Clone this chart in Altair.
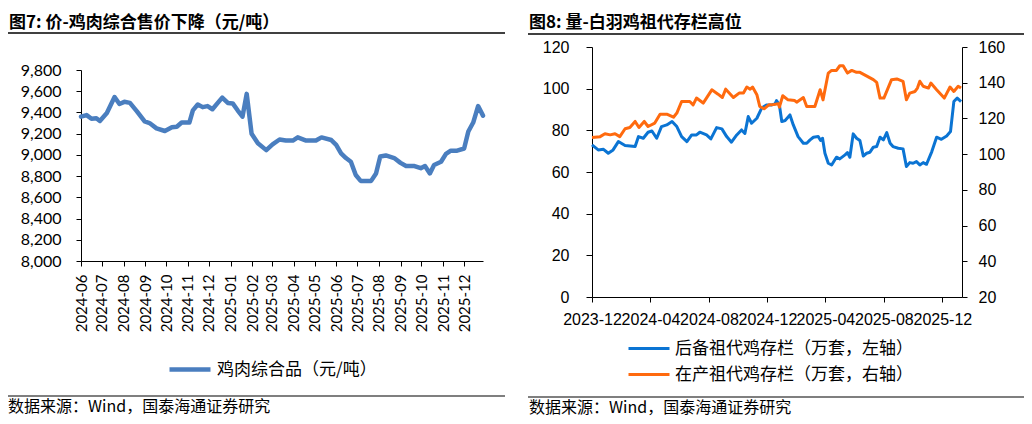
import altair as alt
import pandas as pd

# ---------------- data ----------------
# Figure 7: chicken composite price (yuan/ton)
price_dates = [
    "2024-06-01", "2024-06-09", "2024-06-16", "2024-06-23", "2024-06-28", "2024-07-08",
    "2024-07-19", "2024-07-26", "2024-08-02", "2024-08-10", "2024-08-20", "2024-08-31",
    "2024-09-07", "2024-09-17", "2024-09-29", "2024-10-09", "2024-10-16", "2024-10-23",
    "2024-11-03", "2024-11-08", "2024-11-15", "2024-11-22", "2024-11-29", "2024-12-06",
    "2024-12-13", "2024-12-20", "2024-12-28", "2025-01-04", "2025-01-11", "2025-01-18",
    "2025-01-24", "2025-01-31", "2025-02-09", "2025-02-21", "2025-03-02", "2025-03-12",
    "2025-03-21", "2025-03-31", "2025-04-07", "2025-04-19", "2025-05-03", "2025-05-11",
    "2025-05-25", "2025-06-01", "2025-06-08", "2025-06-15", "2025-06-22", "2025-06-29",
    "2025-07-06", "2025-07-21", "2025-07-28", "2025-08-03", "2025-08-11", "2025-08-23",
    "2025-09-01", "2025-09-09", "2025-09-21", "2025-09-30", "2025-10-06", "2025-10-13",
    "2025-10-19", "2025-10-29", "2025-11-05", "2025-11-12", "2025-11-21", "2025-12-01",
    "2025-12-07", "2025-12-14", "2025-12-21", "2025-12-28",
]
price_values = [
    9360, 9375, 9340, 9345, 9320, 9395,
    9545, 9480, 9500, 9490, 9410, 9315,
    9300, 9250, 9225, 9260, 9265, 9305,
    9305, 9420, 9475, 9450, 9460, 9430,
    9485, 9540, 9490, 9485, 9420, 9360,
    9575, 9200, 9110, 9045, 9100, 9145,
    9135, 9135, 9165, 9135, 9135, 9165,
    9140, 9095, 9015, 8970, 8935, 8810,
    8755, 8755, 8825, 8985, 8995, 8970,
    8925, 8895, 8895, 8875, 8895, 8825,
    8905, 8935, 9010, 9040, 9040, 9060,
    9220, 9305, 9460, 9370,
]

# Figure 8: reserve grandparent stock (10k sets, left axis)
reserve_dates = [
    "2023-12-01", "2023-12-14", "2023-12-25", "2024-01-04", "2024-01-14", "2024-01-25",
    "2024-02-08", "2024-02-29", "2024-03-07", "2024-03-17", "2024-03-27", "2024-04-04",
    "2024-04-14", "2024-04-24", "2024-05-05", "2024-05-16", "2024-05-26", "2024-06-05",
    "2024-06-16", "2024-06-26", "2024-07-06", "2024-07-13", "2024-07-27", "2024-08-05",
    "2024-08-17", "2024-08-28", "2024-09-07", "2024-09-17", "2024-09-28", "2024-10-08",
    "2024-10-15", "2024-10-22", "2024-10-29", "2024-11-09", "2024-11-19", "2024-11-29",
    "2024-12-10", "2024-12-17", "2024-12-20", "2024-12-26", "2024-12-31", "2025-01-07",
    "2025-01-17", "2025-01-24", "2025-02-03", "2025-02-14", "2025-02-21", "2025-02-28",
    "2025-03-07", "2025-03-17", "2025-03-22", "2025-03-26", "2025-03-31", "2025-04-07",
    "2025-04-14", "2025-04-24", "2025-05-01", "2025-05-12", "2025-05-17", "2025-05-22",
    "2025-05-29", "2025-06-05", "2025-06-12", "2025-06-19", "2025-06-26", "2025-07-03",
    "2025-07-10", "2025-07-17", "2025-07-24", "2025-07-31", "2025-08-07", "2025-08-14",
    "2025-08-20", "2025-08-31", "2025-09-10", "2025-09-17", "2025-09-24", "2025-10-01",
    "2025-10-08", "2025-10-15", "2025-10-22", "2025-10-29", "2025-11-09", "2025-11-19",
    "2025-11-29", "2025-12-10", "2025-12-18", "2025-12-25", "2026-01-01", "2026-01-09",
]
reserve_values = [
    73.0, 70.6, 70.9, 69.0, 70.6, 74.6,
    72.7, 72.2, 77.0, 76.2, 79.1, 79.7,
    76.2, 81.8, 82.6, 84.2, 81.8, 77.0,
    74.6, 77.8, 77.8, 79.1, 77.8, 75.9,
    81.3, 80.7, 77.0, 74.3, 77.8, 80.2,
    78.5, 86.6, 83.4, 85.8, 90.7, 92.2,
    92.2, 92.7, 94.3, 92.2, 84.2, 84.7,
    87.4, 82.6, 77.0, 73.8, 73.8, 75.4,
    76.7, 77.0, 75.1, 76.2, 69.0, 64.2,
    63.4, 67.1, 66.3, 68.2, 69.3, 67.1,
    78.3, 76.2, 75.1, 67.7, 69.0, 69.5,
    71.9, 72.2, 76.7, 75.4, 78.9, 73.8,
    72.2, 71.4, 71.1, 62.6, 64.5, 64.2,
    65.0, 63.4, 64.5, 63.7, 69.8, 76.7,
    75.7, 77.3, 79.4, 93.8, 95.5, 93.8,
]

# Figure 8: productive grandparent stock (10k sets, right axis)
prod_dates = [
    "2023-12-01", "2023-12-18", "2023-12-28", "2024-01-08", "2024-01-18", "2024-01-28",
    "2024-02-08", "2024-02-18", "2024-02-29", "2024-03-08", "2024-03-19", "2024-03-27",
    "2024-04-10", "2024-04-21", "2024-05-05", "2024-05-19", "2024-05-26", "2024-06-05",
    "2024-06-22", "2024-06-29", "2024-07-06", "2024-07-20", "2024-08-07", "2024-08-20",
    "2024-08-29", "2024-09-05", "2024-09-21", "2024-10-03", "2024-10-12", "2024-10-19",
    "2024-10-26", "2024-10-31", "2024-11-09", "2024-11-15", "2024-11-24", "2024-12-04",
    "2024-12-10", "2024-12-24", "2024-12-26", "2025-01-02", "2025-01-13", "2025-01-27",
    "2025-01-31", "2025-02-14", "2025-02-21", "2025-03-10", "2025-03-21", "2025-03-27",
    "2025-04-07", "2025-04-14", "2025-04-24", "2025-05-01", "2025-05-08", "2025-05-17",
    "2025-05-26", "2025-06-05", "2025-06-12", "2025-07-10", "2025-07-17", "2025-07-24",
    "2025-08-01", "2025-08-17", "2025-08-28", "2025-09-10", "2025-09-17", "2025-09-24",
    "2025-10-05", "2025-10-10", "2025-10-15", "2025-10-22", "2025-11-02", "2025-11-07",
    "2025-11-19", "2025-12-05", "2025-12-17", "2025-12-25", "2026-01-03", "2026-01-09",
]
prod_values = [
    109.3, 109.8, 111.4, 110.8, 111.4, 109.8,
    114.2, 114.9, 118.3, 114.9, 118.3, 115.5,
    117.4, 122.4, 122.4, 120.7, 123.0, 129.5,
    129.5, 127.6, 131.4, 128.6, 136.0, 133.6,
    131.7, 136.4, 131.7, 134.2, 134.2, 137.6,
    136.4, 137.6, 133.3, 126.7, 125.4, 127.6,
    127.6, 128.2, 126.3, 132.7, 130.4, 130.0,
    129.1, 131.7, 126.7, 126.7, 136.1, 130.4,
    145.4, 146.9, 146.9, 149.5, 149.5, 145.4,
    146.9, 145.8, 145.8, 141.7, 140.2, 131.4,
    131.4, 141.7, 142.1, 140.8, 130.4, 134.2,
    135.1, 137.0, 140.8, 138.0, 137.0, 139.8,
    136.1, 131.4, 137.6, 135.1, 138.0, 137.0,
]

price_ticks = [8000, 8200, 8400, 8600, 8800, 9000, 9200, 9400, 9600, 9800]
left_month_ticks = [(2024, m) for m in range(6, 13)] + [(2025, m) for m in range(1, 13)]
right_month_ticks = [(2023, 12), (2024, 4), (2024, 8), (2024, 12), (2025, 4), (2025, 8), (2025, 12)]
left_axis_ticks = [0, 20, 40, 60, 80, 100, 120]
right_axis_ticks = [20, 40, 60, 80, 100, 120, 140, 160]

TITLE_L = "图7:  价-鸡肉综合售价下降（元/吨）"
TITLE_R = "图8:  量-白羽鸡祖代存栏高位"
SOURCE = "数据来源：Wind，国泰海通证券研究"
SER_PRICE = "鸡肉综合品（元/吨）"
SER_RES = "后备祖代鸡存栏（万套，左轴）"
SER_PROD = "在产祖代鸡存栏（万套，右轴）"

C_PRICE = "#4A7EBF"
C_RES = "#0B74D3"
C_PROD = "#FF6A0E"

CJK = "Noto Sans CJK SC"
W, H = 1016, 408


def dt(y, m, d=1):
    return alt.DateTime(year=y, month=m, date=d)


price_df = pd.DataFrame({"d1": pd.to_datetime(price_dates), "price": price_values, "s1": SER_PRICE})
res_df = pd.DataFrame({"d2": pd.to_datetime(reserve_dates), "res": reserve_values, "s2": SER_RES})
prod_df = pd.DataFrame({"d3": pd.to_datetime(prod_dates), "prod": prod_values, "s3": SER_PROD})

axis_common = dict(grid=False, title=None, domainColor="black", tickColor="black",
                   labelColor="black", labelOverlap=False, labelFlush=False,
                   domainWidth=1, tickWidth=1)


def legend_at(x, y, stroke_w):
    return alt.Legend(orient="none", legendX=x, legendY=y, title=None,
                      symbolType="stroke", symbolSize=1681, symbolStrokeWidth=stroke_w,
                      labelFont=CJK, labelFontSize=17, labelColor="black",
                      labelOffset=4, labelLimit=600, padding=0)


# ---------------- left panel ----------------
left_line = alt.Chart(price_df).mark_line(strokeWidth=4.5, strokeJoin="round", strokeCap="round").encode(
    x=alt.X("d1:T",
            scale=alt.Scale(domain=[dt(2024, 6, 1), dt(2025, 12, 28)], range=[73, 475]),
            axis=alt.Axis(values=[dt(y, m) for y, m in left_month_ticks], format="%Y-%m",
                          labelAngle=270, orient="bottom", offset=-155, tickSize=5,
                          labelPadding=8, labelFont="Lato", labelFontSize=15, **axis_common)),
    y=alt.Y("price:Q",
            scale=alt.Scale(domain=[8000, 9800], range=[253, 62], nice=False, zero=False),
            axis=alt.Axis(values=price_ticks, format=",d", orient="left", offset=-73, tickSize=5,
                          labelPadding=15, labelFont="Lato", labelFontSize=16, **axis_common)),
    color=alt.Color("s1:N", scale=alt.Scale(range=[C_PRICE]), legend=legend_at(159, 338.5, 4.5)),
)

# ---------------- right panel ----------------
res_line = alt.Chart(res_df).mark_line(strokeWidth=3, strokeJoin="round").encode(
    x=alt.X("d2:T",
            scale=alt.Scale(domain=[dt(2023, 12, 1), dt(2026, 1, 11)], range=[584, 954]),
            axis=alt.Axis(values=[dt(y, m) for y, m in right_month_ticks], format="%Y-%m",
                          labelAngle=0, orient="bottom", offset=-119, tickSize=5, labelPadding=9,
                          labelFont="Liberation Sans", labelFontSize=16, **axis_common)),
    y=alt.Y("res:Q", scale=alt.Scale(domain=[0, 120], range=[289, 39], nice=False),
            axis=alt.Axis(values=left_axis_ticks, orient="left", offset=-584, tickSize=6,
                          labelPadding=17, labelFont="Liberation Sans", labelFontSize=16,
                          **axis_common)),
    color=alt.Color("s2:N", scale=alt.Scale(range=[C_RES]), legend=legend_at(619, 318.5, 3)),
)

prod_line = alt.Chart(prod_df).mark_line(strokeWidth=3, strokeJoin="round").encode(
    x=alt.X("d3:T",
            scale=alt.Scale(domain=[dt(2023, 12, 1), dt(2026, 1, 11)], range=[584, 954]),
            axis=None),
    y=alt.Y("prod:Q", scale=alt.Scale(domain=[20, 160], range=[289, 39], nice=False, zero=False),
            axis=alt.Axis(values=right_axis_ticks, orient="right", offset=-62, tickSize=5,
                          labelPadding=11, labelFont="Liberation Sans", labelFontSize=16,
                          **axis_common)),
    color=alt.Color("s3:N", scale=alt.Scale(range=[C_PROD]), legend=legend_at(619, 344.5, 3)),
)


# ---------------- titles, rules, sources ----------------
def text_layer(txt, x, y, size, weight="normal", baseline="middle"):
    return alt.Chart(pd.DataFrame({"t": [txt]})).mark_text(
        align="left", baseline=baseline, font=CJK, fontSize=size, fontWeight=weight, color="black"
    ).encode(text="t:N", x=alt.value(x), y=alt.value(y))


def rule_layer(x1, x2, y, w):
    return alt.Chart(pd.DataFrame({"k": [0]})).mark_rule(color="black", strokeWidth=w).encode(
        x=alt.value(x1), x2=alt.value(x2), y=alt.value(y))


decor = [
    text_layer(TITLE_L, 1, 15, 17, "bold", "middle"),
    text_layer(TITLE_R, 521, 15, 17, "bold", "middle"),
    rule_layer(0, 497, 25, 1.5),
    rule_layer(520, 1016, 26, 1.5),
    rule_layer(0, 497, 388, 1.2),
    rule_layer(520, 1016, 389, 1.2),
    text_layer(SOURCE, 0, 399, 16),
    text_layer(SOURCE, 521, 399.5, 16),
]

chart = alt.layer(left_line, res_line, prod_line, *decor).resolve_scale(
    x="independent", y="independent", color="independent"
).properties(
    width=W, height=H, autosize=alt.AutoSizeParams(type="none"), padding=0
).configure_view(stroke="transparent")

chart.save("out.html", embed_options={"renderer": "svg", "actions": False})
